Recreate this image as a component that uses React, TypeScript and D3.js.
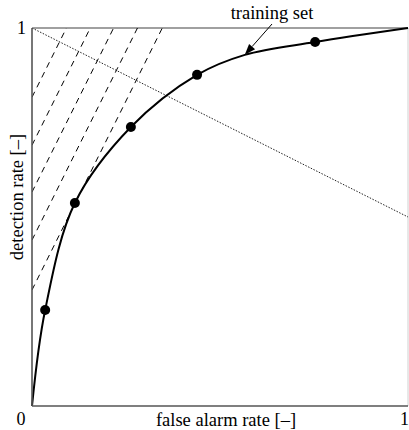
import React from "react";
import * as d3 from "d3";

// ROC curve (training set) points: [false alarm rate, detection rate]
const curveFA = [0, 0.035, 0.114, 0.263, 0.439, 0.566, 0.753, 1];
const curveDR = [0, 0.254, 0.537, 0.738, 0.876, 0.929, 0.963, 1];
// Operating points marked with dots
const dotFA = [0.035, 0.114, 0.263, 0.439, 0.753];
const dotDR = [0.254, 0.537, 0.738, 0.876, 0.963];
// Iso-cost dashed lines: detection = intercept + slope * falseAlarm
const isoIntercepts = [0.817, 0.69, 0.566, 0.439, 0.307];
const isoSlope = 2.0;
// Dotted line endpoints
const dottedFA = [0, 1];
const dottedDR = [1, 0.5];
// Ticks
const tickValues = [0, 1];
const tickLabels = ["0", "1"];
// Annotation
const annotationText = "training set";
const annotationTarget = [0.566, 0.929];

const W = 409;
const H = 430;
const L = 32, R = 408, T = 28, B = 406;
const FONT = "'Liberation Serif', 'DejaVu Serif', serif";

export default function App() {
  const x = d3.scaleLinear().domain([0, 1]).range([L, R]);
  const y = d3.scaleLinear().domain([0, 1]).range([B, T]);

  const curvePts: [number, number][] = curveFA.map((v, i) => [v, curveDR[i]]);
  const line = d3
    .line<[number, number]>()
    .x((d) => x(d[0]))
    .y((d) => y(d[1]))
    .curve(d3.curveCatmullRom.alpha(0.5));

  const tipX = x(annotationTarget[0]);
  const tipY = y(annotationTarget[1]);
  const tailX = 272, tailY = 24;
  const ang = Math.atan2(tipY - tailY, tipX - tailX);
  const ah = 11, aw = 4;
  const bx = tipX - ah * Math.cos(ang), by = tipY - ah * Math.sin(ang);
  const px = -Math.sin(ang) * aw, py = Math.cos(ang) * aw;

  return (
    <svg
      width={W}
      height={H}
      style={{ position: "absolute", left: 0, top: 0, background: "#fff" }}
      fontFamily={FONT}
    >
      <defs>
        <clipPath id="plot">
          <rect x={L} y={T} width={R - L} height={B - T} />
        </clipPath>
      </defs>
      {/* frame */}
      <line x1={L} y1={T} x2={R} y2={T} stroke="#808080" strokeWidth={1.3} />
      <line x1={R} y1={T} x2={R} y2={B} stroke="#d0d0d0" strokeWidth={1} />

      <g clipPath="url(#plot)">
        {isoIntercepts.map((b, i) => {
          const xe = (1 - b) / isoSlope;
          return (
            <line
              key={i}
              x1={x(0)}
              y1={y(b)}
              x2={x(xe)}
              y2={y(1)}
              stroke="#000"
              strokeWidth={1}
              strokeDasharray="6,5"
            />
          );
        })}
        <line
          x1={x(dottedFA[0])}
          y1={y(dottedDR[0])}
          x2={x(dottedFA[1])}
          y2={y(dottedDR[1])}
          stroke="#222"
          strokeWidth={1}
          strokeDasharray="1.5,1.5"
        />
      </g>

      <path d={line(curvePts) || ""} fill="none" stroke="#000" strokeWidth={2} />
      {dotFA.map((v, i) => (
        <circle key={i} cx={x(v)} cy={y(dotDR[i])} r={5} fill="#000" />
      ))}

      {/* axes */}
      <line x1={L} y1={T} x2={L} y2={B} stroke="#555" strokeWidth={1.6} />
      <line x1={L} y1={B} x2={R} y2={B} stroke="#555" strokeWidth={1.6} />

      {/* ticks labels */}
      <text x={21} y={425} fontSize={18} textAnchor="middle">{tickLabels[0]}</text>
      <text x={x(tickValues[1]) + 1} y={425} fontSize={18} textAnchor="end">{tickLabels[1]}</text>
      <text x={26} y={y(tickValues[1]) + 6} fontSize={18} textAnchor="end">{tickLabels[1]}</text>

      {/* axis labels */}
      <text x={(L + R) / 2 + 6} y={426} fontSize={18.5} textAnchor="middle">
        false alarm rate [–]
      </text>
      <text
        transform={`translate(23, ${(T + B) / 2 - 20}) rotate(-90)`}
        fontSize={18.5}
        textAnchor="middle"
      >
        detection rate [–]
      </text>

      {/* annotation */}
      <text x={272} y={19} fontSize={18.5} textAnchor="middle">{annotationText}</text>
      <line x1={tailX} y1={tailY} x2={bx} y2={by} stroke="#000" strokeWidth={1} />
      <path
        d={`M${tipX},${tipY}L${bx + px},${by + py}L${bx - px},${by - py}Z`}
        fill="#000"
      />
    </svg>
  );
}
